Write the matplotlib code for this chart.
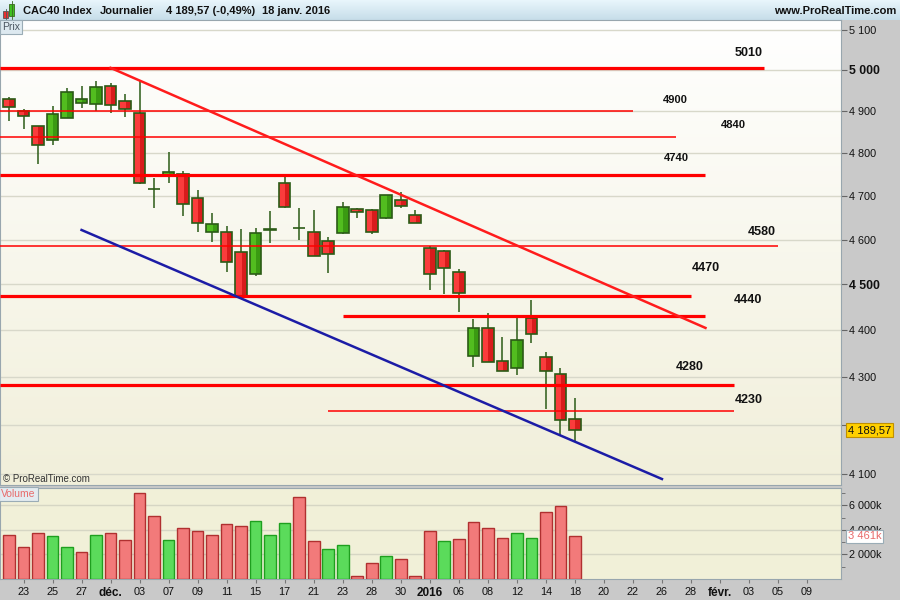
import matplotlib
matplotlib.use("Agg")
import matplotlib.pyplot as plt
import numpy as np
from matplotlib.colors import LinearSegmentedColormap
from matplotlib.ticker import NullLocator, FixedLocator
from matplotlib.transforms import blended_transform_factory

plt.rcParams['font.family'] = ['Liberation Sans', 'DejaVu Sans']

# CAC40 journalier, du 20 nov. 2015 au 18 janv. 2016
ouv = [4928.6, 4901.0, 4863.6, 4830.3, 4882.8, 4918.9, 4916.5, 4960.1, 4923.7, 4894.8,
       4715.4, 4747.0, 4750.3, 4694.6, 4616.9, 4616.9, 4571.8, 4522.6, 4622.5, 4729.4,
       4627.5, 4616.9, 4597.2, 4614.6, 4669.3, 4667.0, 4648.7, 4690.0, 4655.6, 4580.7,
       4574.0, 4527.1, 4345.4, 4404.2, 4333.4, 4318.6, 4425.9, 4342.0, 4305.8, 4211.7]
haut = [4934.1, 4905.9, 4865.0, 4912.4, 4956.0, 4960.9, 4973.1, 4967.4, 4942.1, 4975.5,
        4741.0, 4802.6, 4758.0, 4713.8, 4660.2, 4631.2, 4624.4, 4626.0, 4665.4, 4744.7,
        4671.6, 4667.7, 4605.6, 4686.1, 4673.0, 4669.3, 4701.6, 4708.5, 4667.7, 4585.9,
        4576.9, 4534.4, 4424.4, 4437.5, 4385.5, 4429.4, 4465.9, 4353.3, 4319.2, 4256.0]
bas = [4877.0, 4857.9, 4773.7, 4819.9, 4882.8, 4908.3, 4900.3, 4896.2, 4885.2, 4728.0,
       4671.6, 4730.8, 4654.7, 4618.3, 4595.6, 4527.1, 4474.0, 4519.5, 4593.4, 4673.0,
       4599.5, 4563.0, 4526.2, 4614.0, 4650.1, 4612.4, 4648.0, 4671.6, 4637.0, 4487.9,
       4479.1, 4440.3, 4322.0, 4332.0, 4312.0, 4305.0, 4373.2, 4233.7, 4178.8, 4164.4]
clot = [4909.2, 4887.6, 4818.5, 4893.1, 4945.5, 4928.6, 4957.7, 4914.1, 4904.4, 4729.4,
        4714.8, 4755.0, 4680.8, 4637.3, 4635.1, 4549.4, 4474.7, 4614.6, 4623.7, 4675.3,
        4627.0, 4564.1, 4567.3, 4673.9, 4662.5, 4616.9, 4701.6, 4676.2, 4637.3, 4522.6,
        4537.3, 4480.6, 4404.2, 4332.6, 4312.2, 4378.4, 4391.3, 4312.2, 4210.2, 4189.57]
# volumes en milliers
vol = [3615, 2630, 3780, 3530, 2630, 2220, 3615, 3780, 3200, 6980,
       5090, 3200, 4110, 3940, 3615, 4440, 4270, 4680, 3615, 4520,
       6660, 3120, 2470, 2790, 250, 1310, 1890, 1640, 250, 3940,
       3120, 3290, 4600, 4110, 3370, 3780, 3370, 5420, 5920, 3461]

dates_ticks = ["23", "25", "27", "déc.", "03", "07", "09", "11", "15", "17", "21", "23",
               "28", "30", "2016", "06", "08", "12", "14", "18", "20", "22", "26", "28",
               "févr.", "03", "05", "09"]
mois = ["déc.", "2016", "févr."]

prix_ticks = [4100, 4200, 4300, 4400, 4500, 4600, 4700, 4800, 4900, 5000, 5100]
vol_ticks = [2000, 4000, 6000]

# supports / resistances tracees a la main
niveaux = [5005, 4900, 4838, 4748, 4586, 4474, 4431, 4283, 4229]
niv_debut = [None, None, None, None, None, None, 23, None, 22]
niv_fin = [52, 43, 46, 48, 53, 47, 48, 50, 50]
niv_epais = [True, False, False, True, False, True, True, True, False]
etiquettes = ["5010", "4900", "4840", "4740", "4580", "4470", "4440", "4280", "4230"]
etiq_x = [51.0, 45.9, 49.9, 46.0, 51.9, 48.0, 50.9, 46.9, 51.0]
etiq_y = [5042, 4927, 4867, 4788, 4618, 4537, 4466, 4321, 4252]
etiq_gras = [True, False, False, False, True, True, True, True, True]

# droites de tendance (indice de seance, prix)
tend_haute_x, tend_haute_y = [7, 48], [5005, 4405]
tend_basse_x, tend_basse_y = [5, 45], [4622, 4090]

W, H = 900, 600


def px(x0, y0, x1, y1):
    return [x0 / W, 1 - y1 / H, (x1 - x0) / W, (y1 - y0) / H]


fig = plt.figure(figsize=(9, 6), dpi=100, facecolor='#c9c9c9')
grad = np.linspace(0, 1, 256).reshape(-1, 1)

# barre de titre
tax = fig.add_axes(px(0, 0, 900, 20))
tax.imshow(grad, cmap=LinearSegmentedColormap.from_list('t', ['#e9f6fc', '#c6dde9']),
           aspect='auto', extent=(0, 900, 20, 0))
tax.set_xlim(0, 900)
tax.set_ylim(20, 0)
tax.axis('off')
tax.add_patch(plt.Rectangle((3, 11), 5, 7, fc='#e83030', ec='#555', lw=0.6))
tax.plot([5.5, 5.5], [9, 20], color='#555', lw=0.6)
tax.add_patch(plt.Rectangle((9, 4), 5, 12, fc='#40c020', ec='#3a6a20', lw=0.6))
tax.plot([11.5, 11.5], [1, 19], color='#3a6a20', lw=0.6)
for xx, txt in [(23, "CAC40 Index"), (100, "Journalier"), (166, "4 189,57 (-0,49%)"),
                (262, "18 janv. 2016")]:
    tax.text(xx, 11, txt, fontsize=8, fontweight='bold', va='center', color='#111')
tax.text(896, 11, "www.ProRealTime.com", fontsize=8, fontweight='bold', va='center',
         ha='right', color='#111')

# fond du panneau des prix
bgp = fig.add_axes(px(0, 20, 841, 485))
bgp.imshow(grad, cmap=LinearSegmentedColormap.from_list('p', ['#ffffff', '#f1efda']),
           aspect='auto', extent=(0, 1, 0, 1))
bgp.axis('off')

ax = fig.add_axes(px(0, 20, 841, 485))
ax.patch.set_alpha(0)
axv = fig.add_axes(px(0, 488, 841, 579), sharex=ax)
axv.set_facecolor('#f1f0d8')

n = len(clot)
x = np.arange(n)
o, h, l, c = map(np.array, (ouv, haut, bas, clot))
hausse = c >= o

edge = '#2b5b16'
ax.vlines(x, l, h, color=edge, lw=1.1, zorder=3)
bottoms = np.minimum(o, c)
heights = np.maximum(np.abs(c - o), 0.6)
fonce = np.where(hausse, '#3a9a12', '#d81c1c')
clair = np.where(hausse, '#52bd1f', '#fa3c3c')
ax.bar(x, heights, 0.8, bottom=bottoms, color=fonce, lw=0, zorder=4)
ax.bar(x - 0.18, heights, 0.42, bottom=bottoms, color=clair, lw=0, zorder=4)
ax.bar(x, heights, 0.8, bottom=bottoms, fill=False, edgecolor=edge, lw=1.2, zorder=5)

# niveaux horizontaux
xmin_lim, xmax_lim = -0.62, 57.34
for niv, d, f, ep in zip(niveaux, niv_debut, niv_fin, niv_epais):
    ax.hlines(niv, xmin_lim if d is None else d, f, color='#ff0000',
              lw=2.3 if ep else 1.1, zorder=6)
for txt, tx, ty, g in zip(etiquettes, etiq_x, etiq_y, etiq_gras):
    ax.text(tx, ty, txt, fontsize=9 if g else 8, fontweight='bold', ha='center',
            va='center', color='#111', zorder=7)

ax.plot(tend_haute_x, tend_haute_y, color='#ff1c1c', lw=1.8, zorder=6)
ax.plot(tend_basse_x, tend_basse_y, color='#1c1ca6', lw=1.8, zorder=6)

ax.set_yscale('log')
ax.set_xlim(xmin_lim, xmax_lim)
ax.set_ylim(4078, 5124)
ax.yaxis.tick_right()
ax.yaxis.set_major_locator(FixedLocator(prix_ticks))
ax.yaxis.set_minor_locator(NullLocator())
# le 4 200 est cache par l'etiquette du dernier cours
ax.set_yticklabels(["" if v == 4200 else f"{v // 1000} {v % 1000:03d}" for v in prix_ticks])
for lab, v in zip(ax.get_yticklabels(), prix_ticks):
    if v % 500 == 0:
        lab.set_fontweight('bold')
        lab.set_fontsize(8.8)
    else:
        lab.set_fontsize(7.8)
ax.tick_params(axis='y', length=4, color='#666', pad=2, labelcolor='#111')
ax.tick_params(axis='x', bottom=False, labelbottom=False)
ax.grid(axis='y', color='#d8d8ca', lw=1, zorder=1)
for s in ax.spines.values():
    s.set_color('#98a6ae')

ax.text(2 / 841, 0.995, "Prix", transform=ax.transAxes, fontsize=7.5, color='#4a5560',
        va='top', ha='left',
        bbox=dict(boxstyle='square,pad=0.2', fc='#dde9f0', ec='#9aacb6', lw=0.8))
ax.text(3 / 841, 0.013, "© ProRealTime.com", transform=ax.transAxes, fontsize=7,
        color='#333', va='center', ha='left')

tr = blended_transform_factory(ax.transAxes, ax.transData)
ax.text(1.0085, clot[-1], f"{int(clot[-1]) // 1000} {int(clot[-1]) % 1000},{round(clot[-1] % 1 * 100):02d}",
        transform=tr, fontsize=8, color='#111', va='center', ha='left', clip_on=False,
        zorder=10, bbox=dict(boxstyle='square,pad=0.15', fc='#ffd000', ec='#c09000', lw=0.8))

# volumes
varie = np.diff(np.r_[o[0], c])
vcol = np.where(varie >= 0, '#5bdb5b', '#f27a7a')
vedge = np.where(varie >= 0, '#1f9f1f', '#b03030')
axv.bar(x, vol, 0.8, color=vcol, edgecolor=vedge, lw=1.0, zorder=3)
axv.set_ylim(0, 7400)
axv.yaxis.tick_right()
axv.yaxis.set_major_locator(FixedLocator(vol_ticks))
axv.yaxis.set_minor_locator(FixedLocator([1000, 3000, 5000, 7000]))
axv.set_yticklabels([f"{v // 1000} 000k" for v in vol_ticks])
axv.tick_params(axis='y', which='major', length=4, color='#666', pad=2, labelsize=7.8,
                labelcolor='#111')
axv.tick_params(axis='y', which='minor', length=3, color='#666')
axv.grid(axis='y', which='major', color='#d6d6c4', lw=1, zorder=1)
for s in axv.spines.values():
    s.set_color('#98a6ae')

axv.set_xticks(np.arange(1, 2 * len(dates_ticks), 2))
axv.set_xticklabels(dates_ticks)
for lab in axv.get_xticklabels():
    lab.set_fontsize(7.8)
    if lab.get_text() in mois:
        lab.set_fontweight('bold')
        lab.set_fontsize(8.5)
axv.tick_params(axis='x', length=3, color='#777', pad=3, labelcolor='#111')

axv.text(1 / 841, 0.985, "Volume", transform=axv.transAxes, fontsize=7.5, color='#e86a6a',
         va='top', ha='left',
         bbox=dict(boxstyle='square,pad=0.2', fc='#e3ebf0', ec='#9aacb6', lw=0.8))
trv = blended_transform_factory(axv.transAxes, axv.transData)
axv.text(1.0085, vol[-1], f"{vol[-1] // 1000} {vol[-1] % 1000:03d}k", transform=trv,
         fontsize=8, color='#e86a6a', va='center', ha='left', clip_on=False, zorder=10,
         bbox=dict(boxstyle='square,pad=0.15', fc='#ffffff', ec='#9aacb6', lw=0.8))

fig.savefig("out.png", dpi=100, facecolor=fig.get_facecolor())
